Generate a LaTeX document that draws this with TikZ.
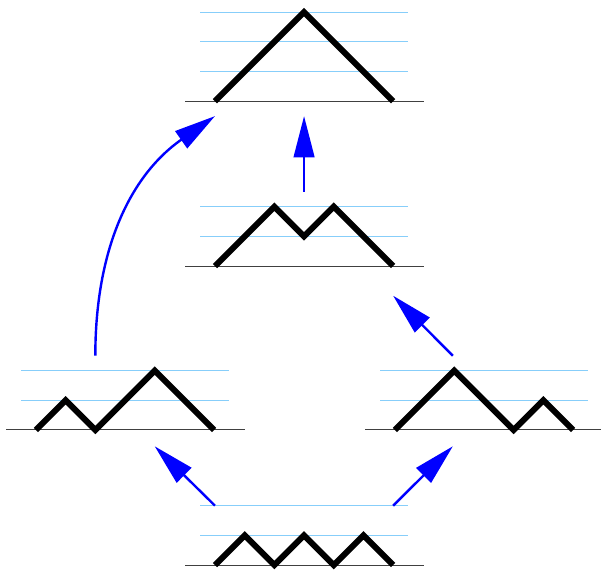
\documentclass[tikz,border=0pt]{standalone}
\usepackage{xcolor}
\usetikzlibrary{arrows.meta}
\definecolor{skyline}{RGB}{135,206,250}

\begin{document}
\begin{tikzpicture}[x=22.275pt, y=22.275pt,
                    level/.style={line width=0.6pt, skyline},
                    ground/.style={line width=0.8pt, black!75},
                    mountain/.style={line width=4.5pt, black},
                    move/.style={-{Triangle[length=31pt, width=15.5pt]},
                                 line width=1.8pt, blue}]
  \useasboundingbox (-7.24,-0.20) rectangle (13.0,19.03);
  % top: UUUDDD
  \begin{scope}[shift={(0,15.62)}]
    \foreach \h in {1,2,3} \draw[level] (-0.5,\h) -- (6.5,\h);
    \draw[ground] (-1,0) -- (7.05,0);
    \draw[mountain] (0,0) -- ++(3,3) -- ++(3,-3);
    \coordinate (top-l) at (0,-0.5);
    \coordinate (top-m) at (3,-0.5);
  \end{scope}
  % middle: UUDUDD
  \begin{scope}[shift={(0,10.07)}]
    \foreach \h in {1,2} \draw[level] (-0.5,\h) -- (6.5,\h);
    \draw[ground] (-1,0) -- (7.05,0);
    \draw[mountain] (0,0) -- ++(2,2) -- ++(1,-1) -- ++(1,1) -- ++(2,-2);
    \coordinate (mid-t) at (3,2.5);
    \coordinate (mid-r) at (6,-1);
  \end{scope}
  % left: UDUUDD
  \begin{scope}[shift={(-6.03,4.55)}]
    \foreach \h in {1,2} \draw[level] (-0.5,\h) -- (6.5,\h);
    \draw[ground] (-1,0) -- (7.05,0);
    \draw[mountain] (0,0) -- ++(1,1) -- ++(1,-1) -- ++(2,2) -- ++(2,-2);
    \coordinate (lft-t) at (2,2.5);
    \coordinate (lft-b) at (4,-0.55);
  \end{scope}
  % right: UUDDUD
  \begin{scope}[shift={(6.06,4.55)}]
    \foreach \h in {1,2} \draw[level] (-0.5,\h) -- (6.5,\h);
    \draw[ground] (-1,0) -- (7.05,0);
    \draw[mountain] (0,0) -- ++(2,2) -- ++(2,-2) -- ++(1,1) -- ++(1,-1);
    \coordinate (rgt-t) at (1.95,2.5);
    \coordinate (rgt-b) at (1.95,-0.55);
  \end{scope}
  % bottom: UDUDUD
  \begin{scope}[shift={(0,0)}]
    \foreach \h in {1,2} \draw[level] (-0.5,\h) -- (6.5,\h);
    \draw[ground] (-1,0) -- (7.05,0);
    \draw[mountain] (0,0) \foreach \i in {1,2,3} { -- ++(1,1) -- ++(1,-1) };
    \coordinate (bot-l) at (0,2);
    \coordinate (bot-r) at (6,2);
  \end{scope}
  % moves
  \draw[move] (bot-l) -- (lft-b);
  \draw[move] (bot-r) -- (rgt-b);
  \draw[move] (rgt-t) -- (mid-r);
  \draw[move] (mid-t) -- (top-m);
  \draw[move] (lft-t) to[out=90, in=215] (top-l);
\end{tikzpicture}
\end{document}
